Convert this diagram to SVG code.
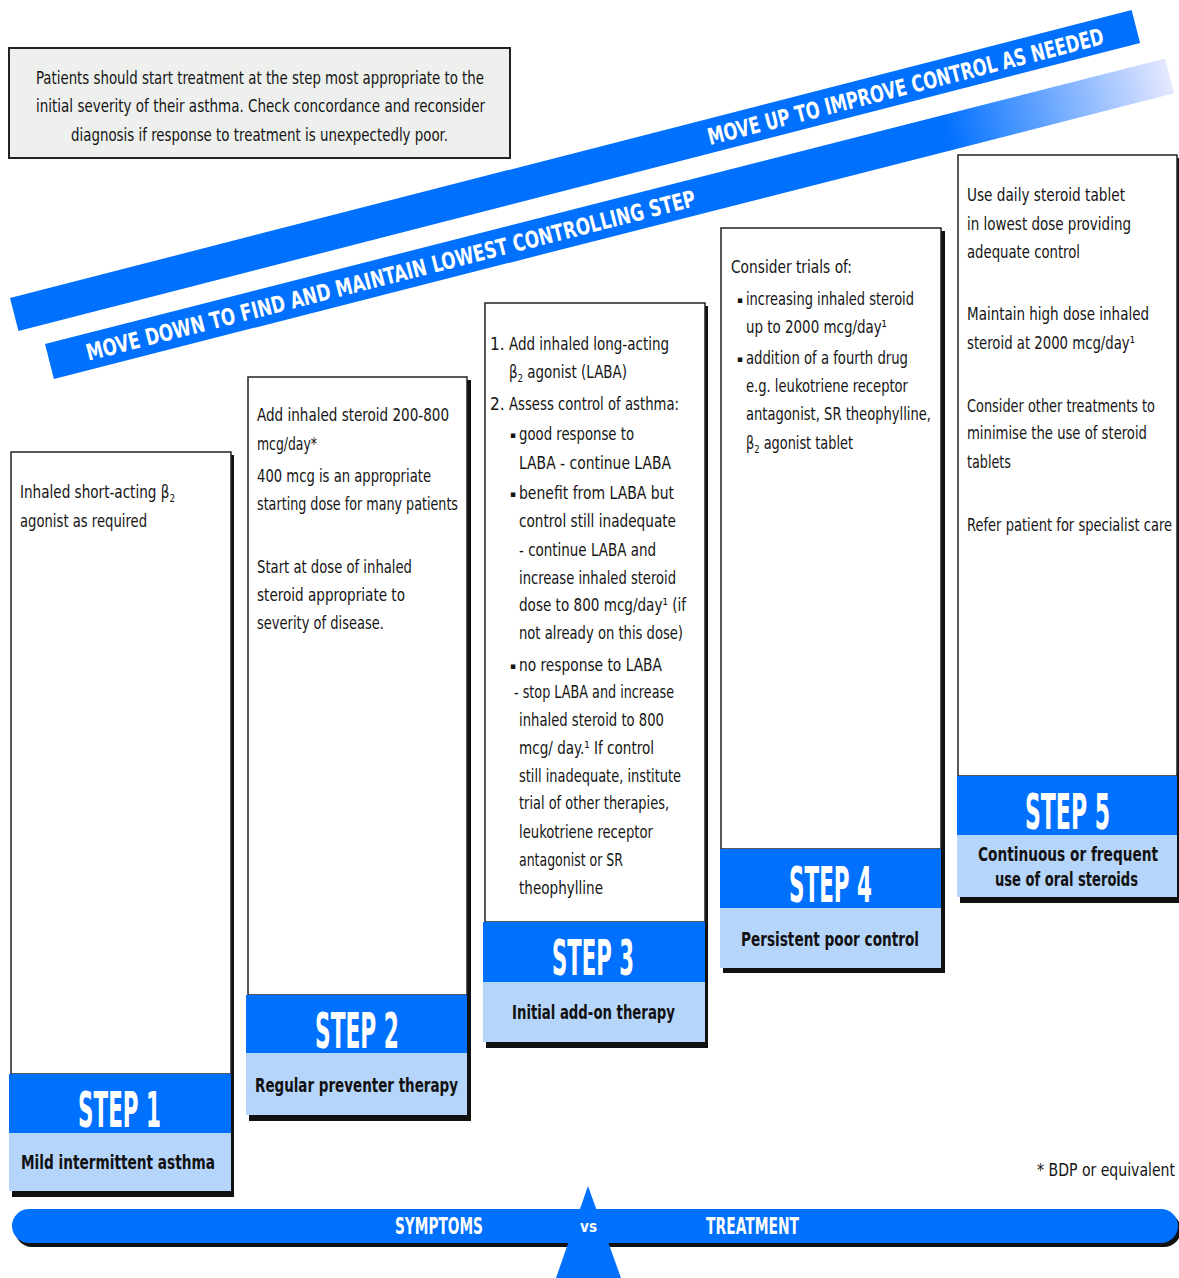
<svg xmlns="http://www.w3.org/2000/svg" width="1179" height="1278" viewBox="0 0 1179 1278">
<style>
.t{font-family:"Liberation Sans Narrow","DejaVu Sans Condensed","Liberation Sans",sans-serif;font-size:17px;fill:#141414}
.bu{font-family:"DejaVu Sans","Liberation Sans",sans-serif;font-size:9px;fill:#141414}
.b{font-family:"Liberation Sans Narrow","DejaVu Sans Condensed","Liberation Sans",sans-serif;font-size:19px;font-weight:bold;fill:#111}
.st{font-family:"Liberation Sans Narrow","DejaVu Sans Condensed","Liberation Sans",sans-serif;font-size:50px;font-weight:bold;fill:#fff}
.w{font-family:"Liberation Sans Narrow","DejaVu Sans Condensed","Liberation Sans",sans-serif;font-weight:bold;fill:#fff}
.sub{font-size:11px}
.blue{fill:#0070ff}
.lb{fill:#b6d5fb}
.sh{fill:#111}
.wb{fill:#fff;stroke:#222;stroke-width:1.5}
</style>
<defs>
<linearGradient id="fade" x1="0" y1="0" x2="1" y2="0">
<stop offset="0" stop-color="#0070ff"/>
<stop offset="0.8" stop-color="#0070ff"/>
<stop offset="1" stop-color="#e6e8ff"/>
</linearGradient>
</defs>

<g id="note">
<rect x="9" y="48" width="501" height="110" fill="#eef0ee" stroke="#222" stroke-width="2"/>
<text class="t" x="36" y="84" textLength="448" lengthAdjust="spacingAndGlyphs">Patients should start treatment at the step most appropriate to the</text>
<text class="t" x="36" y="112" textLength="449" lengthAdjust="spacingAndGlyphs">initial severity of their asthma. Check concordance and reconsider</text>
<text class="t" x="71" y="141" textLength="377" lengthAdjust="spacingAndGlyphs">diagnosis if response to treatment is unexpectedly poor.</text>
</g>

<g id="band-up" transform="translate(10,298) rotate(-14.4)">
<rect x="0" y="0" width="1158" height="34" class="blue"/>
<text class="w" x="716" y="26" font-size="23" textLength="408" lengthAdjust="spacingAndGlyphs">MOVE UP TO IMPROVE CONTROL AS NEEDED</text>
</g>

<g id="band-down" transform="translate(45,344) rotate(-14.3)">
<rect x="0" y="0" width="1156" height="36" fill="url(#fade)"/>
<text class="w" x="38" y="27" font-size="23" textLength="628" lengthAdjust="spacingAndGlyphs">MOVE DOWN TO FIND AND MAINTAIN LOWEST CONTROLLING STEP</text>
</g>

<g id="step1">
<rect class="sh" x="12" y="455" width="222" height="742"/>
<rect class="wb" x="11" y="452" width="220" height="622"/>
<rect class="blue" x="9" y="1074" width="222" height="59"/>
<rect class="lb" x="9" y="1133" width="222" height="58"/>
<text class="st" x="78" y="1127" textLength="83" lengthAdjust="spacingAndGlyphs">STEP 1</text>
<text class="b" x="21" y="1169" textLength="194" lengthAdjust="spacingAndGlyphs">Mild intermittent asthma</text>
<text class="t" x="20" y="498" textLength="155" lengthAdjust="spacingAndGlyphs">Inhaled short-acting β<tspan class="sub" dy="4">2</tspan></text>
<text class="t" x="20" y="527" textLength="127" lengthAdjust="spacingAndGlyphs">agonist as required</text>
</g>

<g id="step2">
<rect class="sh" x="249" y="380" width="222" height="741"/>
<rect class="wb" x="248" y="377" width="219" height="618"/>
<rect class="blue" x="246" y="995" width="221" height="58"/>
<rect class="lb" x="246" y="1053" width="221" height="62"/>
<text class="st" x="315" y="1048" textLength="84" lengthAdjust="spacingAndGlyphs">STEP 2</text>
<text class="b" x="255" y="1092" textLength="203" lengthAdjust="spacingAndGlyphs">Regular preventer therapy</text>
<text class="t" x="257" y="421" textLength="192" lengthAdjust="spacingAndGlyphs">Add inhaled steroid 200-800</text>
<text class="t" x="257" y="450" textLength="60" lengthAdjust="spacingAndGlyphs">mcg/day*</text>
<text class="t" x="257" y="482" textLength="174" lengthAdjust="spacingAndGlyphs">400 mcg is an appropriate</text>
<text class="t" x="257" y="510" textLength="201" lengthAdjust="spacingAndGlyphs">starting dose for many patients</text>
<text class="t" x="257" y="573" textLength="155" lengthAdjust="spacingAndGlyphs">Start at dose of inhaled</text>
<text class="t" x="257" y="601" textLength="148" lengthAdjust="spacingAndGlyphs">steroid appropriate to</text>
<text class="t" x="257" y="629" textLength="127" lengthAdjust="spacingAndGlyphs">severity of disease.</text>
</g>

<g id="step3">
<rect class="sh" x="486" y="306" width="222" height="742"/>
<rect class="wb" x="485" y="303" width="220" height="619"/>
<rect class="blue" x="483" y="922" width="222" height="60"/>
<rect class="lb" x="483" y="982" width="222" height="60"/>
<text class="st" x="552" y="975" textLength="82" lengthAdjust="spacingAndGlyphs">STEP 3</text>
<text class="b" x="512" y="1019" textLength="163" lengthAdjust="spacingAndGlyphs">Initial add-on therapy</text>
<text class="t" x="490" y="350">1.</text>
<text class="t" x="509" y="350" textLength="160" lengthAdjust="spacingAndGlyphs">Add inhaled long-acting</text>
<text class="t" x="509" y="378" textLength="118" lengthAdjust="spacingAndGlyphs">β<tspan class="sub" dy="4">2</tspan><tspan dy="-4"> agonist (LABA)</tspan></text>
<text class="t" x="490" y="410">2.</text>
<text class="t" x="509" y="410" textLength="170" lengthAdjust="spacingAndGlyphs">Assess control of asthma:</text>
<text class="bu" x="510" y="438">▪</text>
<text class="t" x="519" y="440" textLength="115" lengthAdjust="spacingAndGlyphs">good response to</text>
<text class="t" x="519" y="469" textLength="152" lengthAdjust="spacingAndGlyphs">LABA - continue LABA</text>
<text class="bu" x="510" y="497">▪</text>
<text class="t" x="519" y="499" textLength="155" lengthAdjust="spacingAndGlyphs">benefit from LABA but</text>
<text class="t" x="519" y="527" textLength="157" lengthAdjust="spacingAndGlyphs">control still inadequate</text>
<text class="t" x="519" y="556" textLength="137" lengthAdjust="spacingAndGlyphs">- continue LABA and</text>
<text class="t" x="519" y="584" textLength="157" lengthAdjust="spacingAndGlyphs">increase inhaled steroid</text>
<text class="t" x="519" y="611" textLength="167" lengthAdjust="spacingAndGlyphs">dose to 800 mcg/day¹ (if</text>
<text class="t" x="519" y="639" textLength="164" lengthAdjust="spacingAndGlyphs">not already on this dose)</text>
<text class="bu" x="510" y="669">▪</text>
<text class="t" x="519" y="671" textLength="143" lengthAdjust="spacingAndGlyphs">no response to LABA</text>
<text class="t" x="514" y="698" textLength="160" lengthAdjust="spacingAndGlyphs">- stop LABA and increase</text>
<text class="t" x="519" y="726" textLength="145" lengthAdjust="spacingAndGlyphs">inhaled steroid to 800</text>
<text class="t" x="519" y="754" textLength="135" lengthAdjust="spacingAndGlyphs">mcg/ day.¹ If control</text>
<text class="t" x="519" y="782" textLength="162" lengthAdjust="spacingAndGlyphs">still inadequate, institute</text>
<text class="t" x="519" y="809" textLength="150" lengthAdjust="spacingAndGlyphs">trial of other therapies,</text>
<text class="t" x="519" y="838" textLength="134" lengthAdjust="spacingAndGlyphs">leukotriene receptor</text>
<text class="t" x="519" y="866" textLength="104" lengthAdjust="spacingAndGlyphs">antagonist or SR</text>
<text class="t" x="519" y="894" textLength="84" lengthAdjust="spacingAndGlyphs">theophylline</text>
</g>

<g id="step4">
<rect class="sh" x="723" y="231" width="222" height="742"/>
<rect class="wb" x="721" y="228" width="220" height="621"/>
<rect class="blue" x="720" y="849" width="221" height="59"/>
<rect class="lb" x="720" y="908" width="221" height="60"/>
<text class="st" x="789" y="902" textLength="83" lengthAdjust="spacingAndGlyphs">STEP 4</text>
<text class="b" x="741" y="946" textLength="178" lengthAdjust="spacingAndGlyphs">Persistent poor control</text>
<text class="t" x="731" y="273" textLength="121" lengthAdjust="spacingAndGlyphs">Consider trials of:</text>
<text class="bu" x="737" y="303">▪</text>
<text class="t" x="746" y="305" textLength="168" lengthAdjust="spacingAndGlyphs">increasing inhaled steroid</text>
<text class="t" x="746" y="333" textLength="141" lengthAdjust="spacingAndGlyphs">up to 2000 mcg/day¹</text>
<text class="bu" x="737" y="362">▪</text>
<text class="t" x="746" y="364" textLength="162" lengthAdjust="spacingAndGlyphs">addition of a fourth drug</text>
<text class="t" x="746" y="392" textLength="162" lengthAdjust="spacingAndGlyphs">e.g. leukotriene receptor</text>
<text class="t" x="746" y="420" textLength="185" lengthAdjust="spacingAndGlyphs">antagonist, SR theophylline,</text>
<text class="t" x="746" y="449" textLength="107" lengthAdjust="spacingAndGlyphs">β<tspan class="sub" dy="4">2</tspan><tspan dy="-4"> agonist tablet</tspan></text>
</g>

<g id="step5">
<rect class="sh" x="960" y="158" width="222" height="745"/>
<rect class="wb" x="958" y="155" width="219" height="621"/>
<rect class="blue" x="957" y="776" width="220" height="59"/>
<rect class="lb" x="957" y="835" width="220" height="62"/>
<text class="st" x="1025" y="829" textLength="85" lengthAdjust="spacingAndGlyphs">STEP 5</text>
<text class="b" x="978" y="861" textLength="180" lengthAdjust="spacingAndGlyphs">Continuous or frequent</text>
<text class="b" x="995" y="886" textLength="143" lengthAdjust="spacingAndGlyphs">use of oral steroids</text>
<text class="t" x="967" y="201" textLength="158" lengthAdjust="spacingAndGlyphs">Use daily steroid tablet</text>
<text class="t" x="967" y="230" textLength="164" lengthAdjust="spacingAndGlyphs">in lowest dose providing</text>
<text class="t" x="967" y="258" textLength="113" lengthAdjust="spacingAndGlyphs">adequate control</text>
<text class="t" x="967" y="320" textLength="182" lengthAdjust="spacingAndGlyphs">Maintain high dose inhaled</text>
<text class="t" x="967" y="349" textLength="168" lengthAdjust="spacingAndGlyphs">steroid at 2000 mcg/day¹</text>
<text class="t" x="967" y="412" textLength="188" lengthAdjust="spacingAndGlyphs">Consider other treatments to</text>
<text class="t" x="967" y="439" textLength="180" lengthAdjust="spacingAndGlyphs">minimise the use of steroid</text>
<text class="t" x="967" y="468" textLength="44" lengthAdjust="spacingAndGlyphs">tablets</text>
<text class="t" x="967" y="531" textLength="205" lengthAdjust="spacingAndGlyphs">Refer patient for specialist care</text>
</g>

<g id="footnote">
<text class="t" x="1037" y="1176" textLength="138" lengthAdjust="spacingAndGlyphs">* BDP or equivalent</text>
</g>

<g id="scale-bar">
<rect x="15" y="1213" width="1166" height="34" rx="17" class="sh"/>
<rect x="12" y="1209" width="1166" height="34" rx="17" class="blue"/>
<polygon points="588,1186 621,1278 556,1278" class="blue"/>
<text class="w" x="395" y="1234" font-size="23" textLength="88" lengthAdjust="spacingAndGlyphs">SYMPTOMS</text>
<text class="w" x="580" y="1232" font-size="15" font-weight="normal" textLength="17" lengthAdjust="spacingAndGlyphs">vs</text>
<text class="w" x="706" y="1234" font-size="23" textLength="93" lengthAdjust="spacingAndGlyphs">TREATMENT</text>
</g>
</svg>
